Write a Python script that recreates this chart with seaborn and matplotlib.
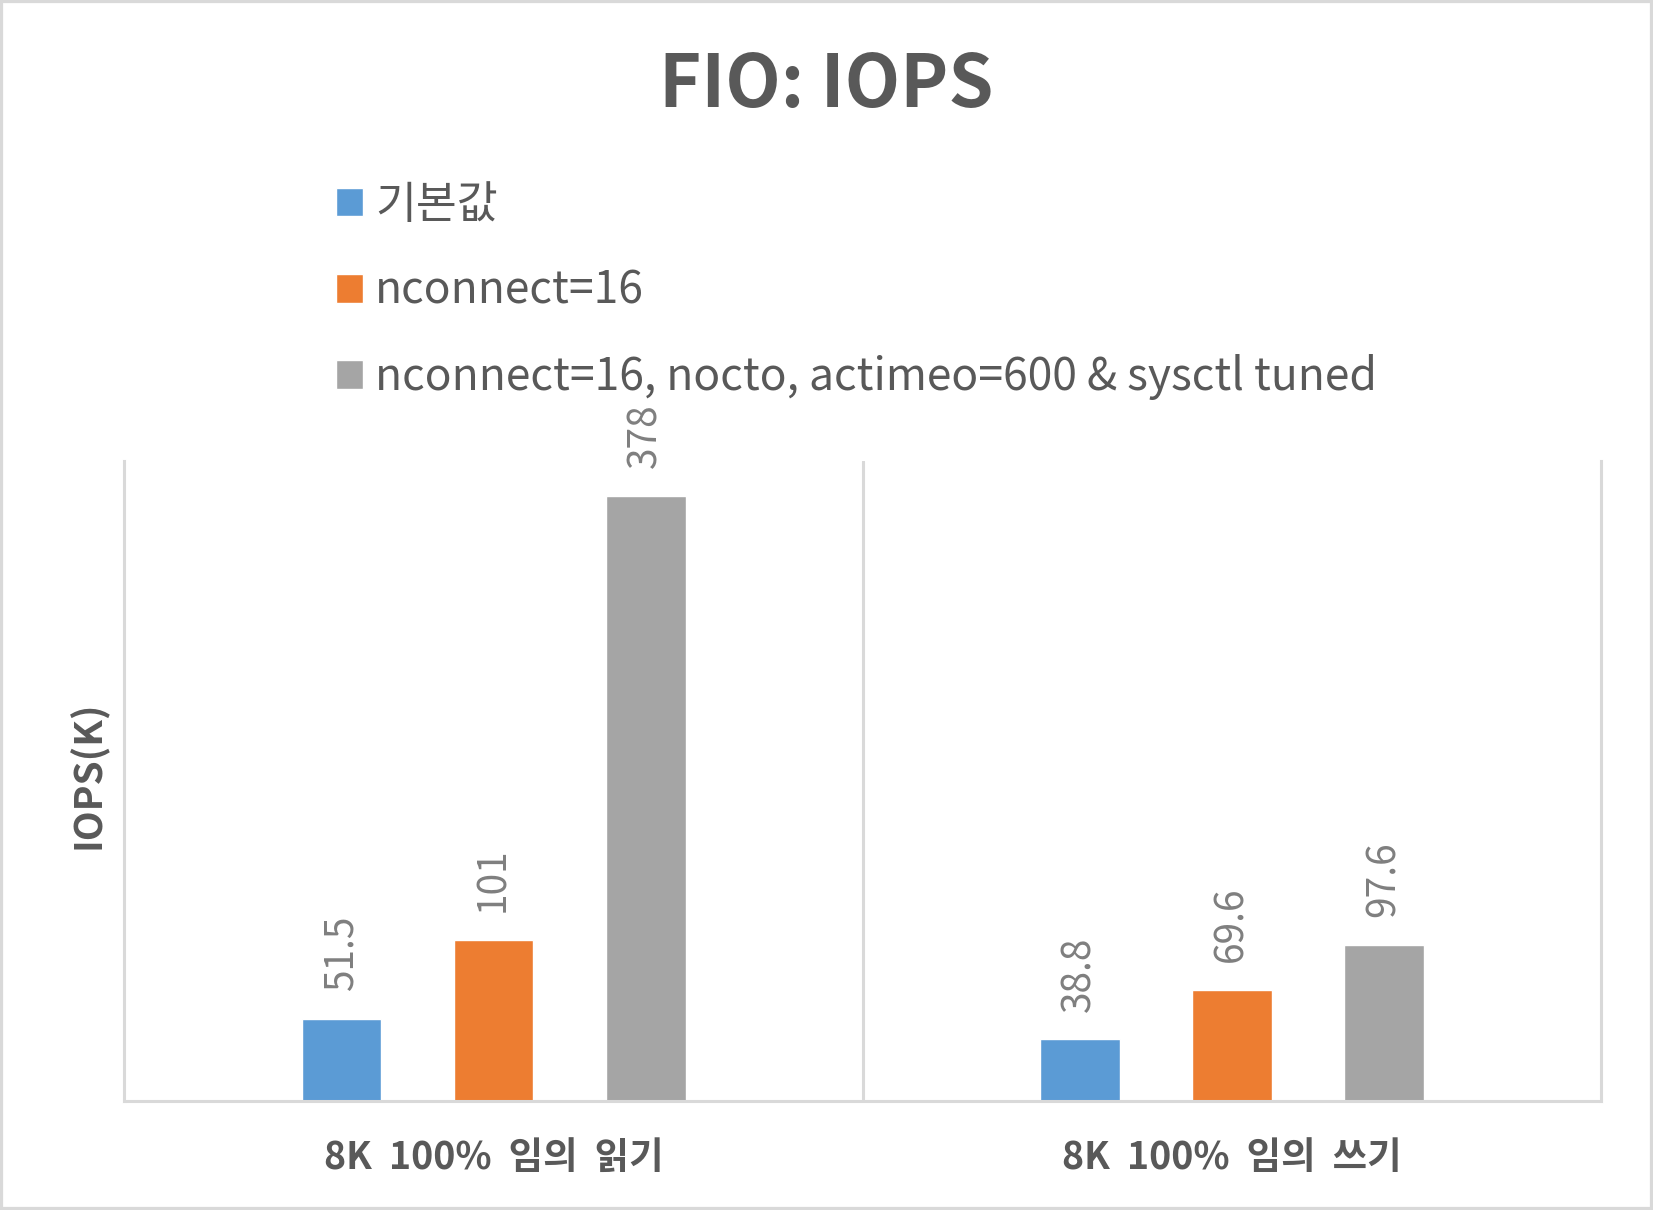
import numpy as np
import pandas as pd
import matplotlib
matplotlib.use("Agg")
import matplotlib.pyplot as plt
import seaborn as sns

# 데이터
tests = ["8K 100% 임의 읽기", "8K 100% 임의 쓰기"]
configs = ["기본값", "nconnect=16", "nconnect=16, nocto, actimeo=600 & sysctl tuned"]
iops_read = [51.5, 101, 378]
iops_write = [38.8, 69.6, 97.6]
label_read = ["51.5", "101", "378"]
label_write = ["38.8", "69.6", "97.6"]
colors = ["#5B9BD5", "#ED7D31", "#A5A5A5"]

df = pd.DataFrame({
    "test": [tests[0]] * 3 + [tests[1]] * 3,
    "config": configs * 2,
    "iops": iops_read + iops_write,
})

sns.set_theme(style="white")
plt.rcParams["font.family"] = ["Noto Sans CJK KR", "DejaVu Sans"]
TXT = "#595959"
GRID = "#d9d9d9"

fig = plt.figure(figsize=(16.53, 12.10), dpi=100)
ax = fig.add_axes([0.0753, 0.0897, 0.8932, 0.5296])

sns.barplot(data=df, x="test", y="iops", hue="config", hue_order=configs,
            palette=colors, saturation=1, width=0.618, gap=0.476, ax=ax)

ax.set_xlim(-0.5, 1.5)
ax.set_ylim(0, 400)
ax.set_yticks([])
ax.set_xlabel("")
ax.set_ylabel("IOPS(K)", fontsize=28, fontweight="bold", color=TXT)
ax.yaxis.set_label_coords(-0.011, 0.51)

ax.spines["top"].set_visible(False)
for side in ["left", "right", "bottom"]:
    ax.spines[side].set_color(GRID)
    ax.spines[side].set_linewidth(2.2)
ax.axvline(0.5, color=GRID, lw=2.2)

# 눈금 레이블: 원본처럼 넓은 자간을 흉내내기 위해 공백을 두 칸으로
ax.set_xticks(range(len(tests)))
ax.set_xticklabels([t.replace(" ", "  ") for t in tests], fontweight="bold")
ax.tick_params(axis="x", length=0, pad=26.5, labelsize=27, labelcolor=TXT)

# 데이터 레이블 (카테고리별 값)
for i, cont in enumerate(ax.containers):
    ax.bar_label(cont, labels=[label_read[i], label_write[i]], rotation=90,
                 padding=20, fontsize=28, color="#7f7f7f")

handles, labels = ax.get_legend_handles_labels()
ax.get_legend().remove()
fig.legend(handles, labels, loc="upper left", bbox_to_anchor=(0.203, 0.850),
           frameon=False, fontsize=32, labelcolor=TXT,
           handlelength=0.61, handleheight=0.61, handletextpad=0.28,
           labelspacing=0.91, borderaxespad=0, borderpad=0)

fig.suptitle("FIO: IOPS", y=1 - 85.5 / 1210, va="center", fontsize=52,
             fontweight="bold", color=TXT)

fig.add_artist(plt.Rectangle((0, 0), 1, 1, transform=fig.transFigure,
                             fill=False, ec=GRID, lw=4.5))

fig.savefig("out.png", dpi=100)
